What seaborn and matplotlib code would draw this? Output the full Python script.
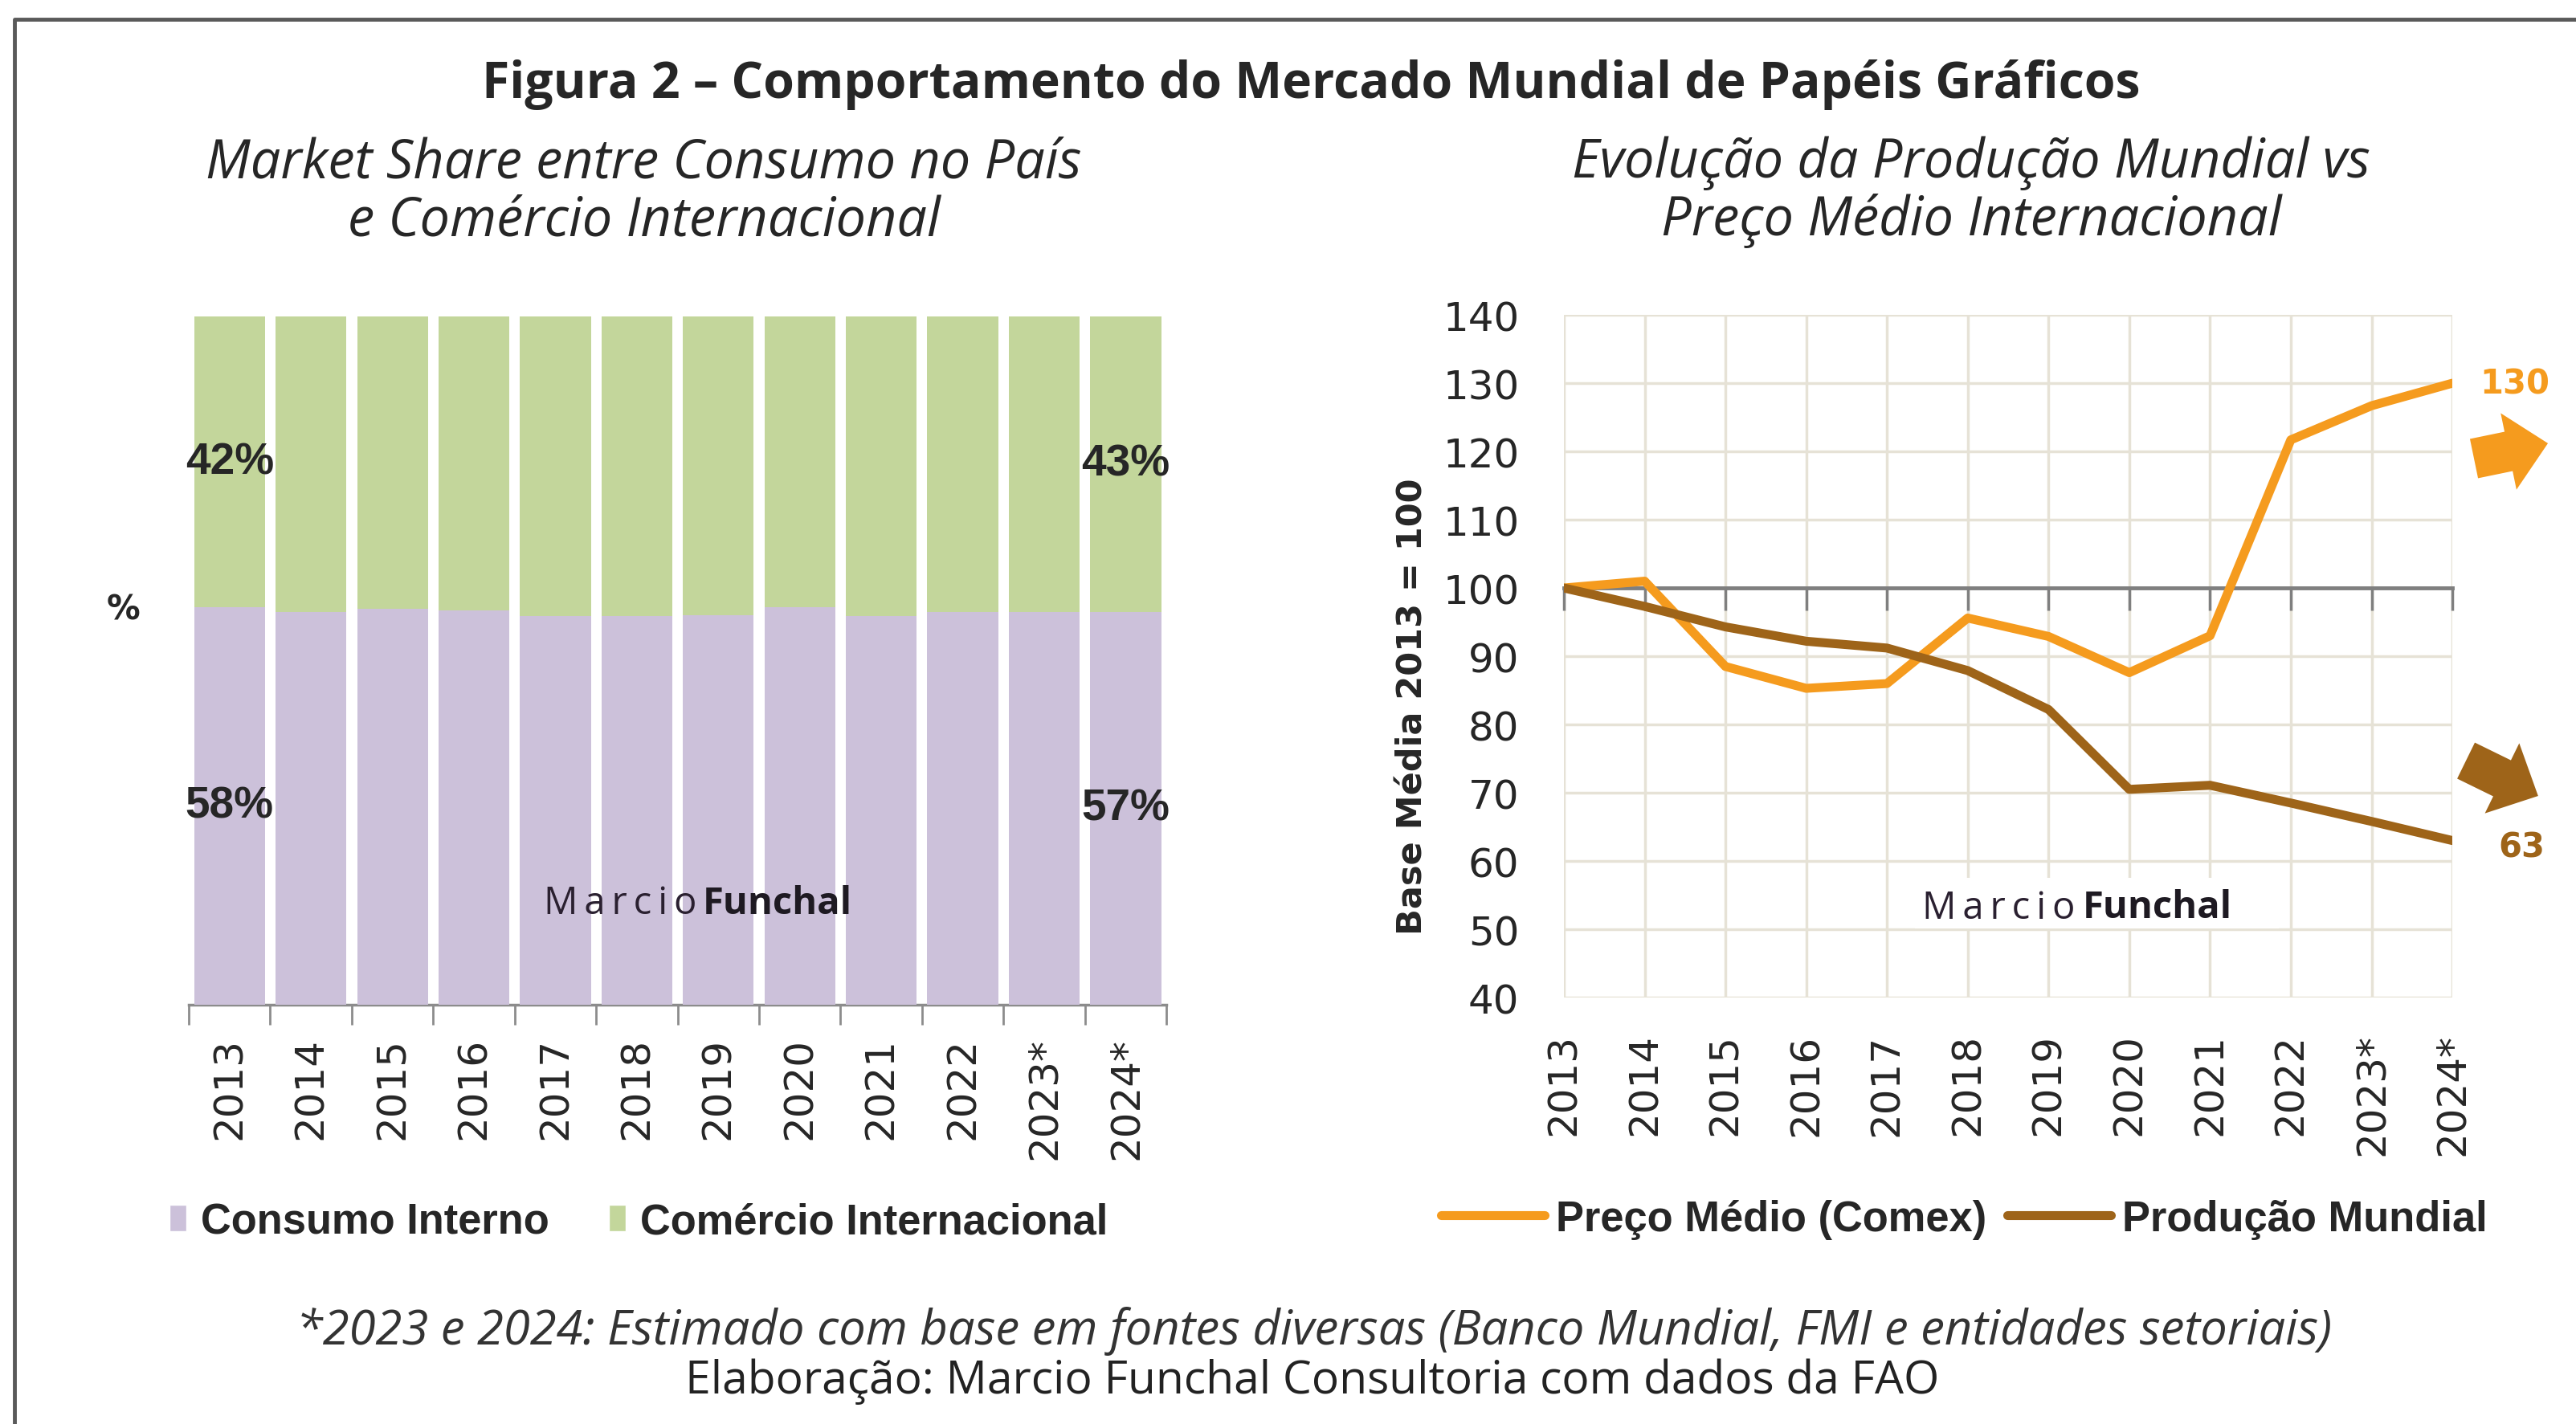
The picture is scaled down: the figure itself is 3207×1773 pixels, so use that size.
import numpy as np
import pandas as pd
import matplotlib
matplotlib.use("Agg")
import matplotlib.pyplot as plt
import seaborn as sns
from matplotlib import font_manager
from matplotlib.patches import Patch, FancyArrowPatch, Rectangle
from matplotlib.lines import Line2D

# dados
anos = ["2013", "2014", "2015", "2016", "2017", "2018", "2019", "2020",
        "2021", "2022", "2023*", "2024*"]
consumo_interno = [57.7, 57.1, 57.5, 57.3, 56.5, 56.5, 56.6, 57.7, 56.5, 57.1, 57.1, 57.1]
comercio_internacional = [42.3, 42.9, 42.5, 42.7, 43.5, 43.5, 43.4, 42.3, 43.5, 42.9, 42.9, 42.9]
preco_medio = [100, 101, 88.5, 85.3, 86.0, 95.6, 92.9, 87.6, 93.0, 121.7, 126.7, 130]
producao_mundial = [100, 97.3, 94.3, 92.2, 91.2, 87.9, 82.2, 70.5, 71.1, 68.5, 65.8, 63]

ROXO = "#CCC1DA"
VERDE = "#C3D69B"
LARANJA = "#F59B1E"
MARROM = "#9E6419"
CINZA = "#7f7f7f"


def fonte(nome, reserva):
    try:
        font_manager.findfont(font_manager.FontProperties(family=nome), fallback_to_default=False)
        return nome, 1.0
    except ValueError:
        return reserva, 0.9


NARROW, ESCALA = fonte("Liberation Sans Narrow", "Liberation Sans")
TITULO = "Open Sans"

sns.set_style("white")
plt.rcParams["font.family"] = ["DejaVu Sans"]

fig = plt.figure(figsize=(32.07, 17.74), dpi=100)
ax1 = fig.add_axes([0.0733, 0.2943, 0.3795, 0.4831])
ax2 = fig.add_axes([0.6071, 0.2993, 0.3449, 0.4791])

# ---- gráfico 1: barras empilhadas
df_bar = pd.DataFrame({"ano": anos, "consumo": consumo_interno, "comercio": comercio_internacional})
df_bar["total"] = df_bar["consumo"] + df_bar["comercio"]
sns.barplot(data=df_bar, x="ano", y="total", color=VERDE, saturation=1, width=0.87,
            linewidth=0, ax=ax1, zorder=2)
sns.barplot(data=df_bar, x="ano", y="consumo", color=ROXO, saturation=1, width=0.87,
            linewidth=0, ax=ax1, zorder=3)
ax1.set_xlim(-0.5, len(anos) - 0.5)
ax1.set_ylim(0, 100)
ax1.set_yticks([])
ax1.set_xlabel("")
ax1.set_ylabel("")
for s in ["left", "right", "top"]:
    ax1.spines[s].set_visible(False)
ax1.spines["bottom"].set_color("#8c8c8c")
ax1.spines["bottom"].set_linewidth(2.5)
ax1.set_xticks(np.arange(-0.5, len(anos), 1), minor=True)
ax1.tick_params(axis="x", which="minor", length=18, width=2, color="#8c8c8c", direction="out", bottom=True)
ax1.tick_params(axis="x", which="major", length=0, pad=29, labelsize=36, labelrotation=90)

tam_rotulo = 44 * ESCALA
for i in [0, len(anos) - 1]:
    c = df_bar["consumo"][i]
    m = df_bar["comercio"][i]
    ax1.text(i, c / 2, f"{c:.0f}%", ha="center", va="center", fontsize=tam_rotulo,
             fontweight="bold", family=NARROW, zorder=5)
    ax1.text(i, c + m / 2, f"{m:.0f}%", ha="center", va="center", fontsize=tam_rotulo,
             fontweight="bold", family=NARROW, zorder=5)
ax1.text(-0.067, 0.575, "%", transform=ax1.transAxes, ha="center", va="center",
         fontsize=30, fontweight="bold")

# ---- gráfico 2: linhas
n = len(anos)
df_lin = pd.DataFrame({
    "pos": list(range(n)) * 2,
    "valor": preco_medio + producao_mundial,
    "serie": ["Preço Médio (Comex)"] * n + ["Produção Mundial"] * n,
})
sns.lineplot(data=df_lin, x="pos", y="valor", hue="serie",
             palette={"Preço Médio (Comex)": LARANJA, "Produção Mundial": MARROM},
             linewidth=8, legend=False, ax=ax2, zorder=4,
             solid_joinstyle="round", solid_capstyle="round")
ax2.set_xlim(0, n - 1)
ax2.set_ylim(40, 140)
ax2.set_yticks(range(40, 141, 10))
ax2.set_xticks(range(n))
ax2.set_xticklabels(anos)
ax2.set_xlabel("")
ax2.grid(True, color="#E6E2D6", linewidth=2.5)
ax2.set_axisbelow(True)
for s in ax2.spines.values():
    s.set_visible(False)
ax2.tick_params(axis="y", length=0, pad=40, labelsize=36)
ax2.tick_params(axis="x", length=0, pad=32, labelsize=36, labelrotation=90)
ax2.set_ylabel("Base Média 2013 = 100", fontsize=31, fontweight="bold")
ax2.yaxis.set_label_coords(-0.151, 0.427)

# eixo horizontal cruzando em 100
y0, y1 = ax2.get_ylim()
sec = ax2.secondary_xaxis((100 - y0) / (y1 - y0))
sec.set_alignment("bottom")
sec.set_zorder(3)
sec.set_xticks(range(n))
sec.tick_params(direction="out", length=20, width=2.5, color=CINZA, labelbottom=False, labeltop=False)
sec.spines["bottom"].set_color(CINZA)
sec.spines["bottom"].set_linewidth(3.5)

ax2.annotate(f"{preco_medio[-1]:.0f}", xy=(n - 1, preco_medio[-1]), xytext=(56, 0),
             textcoords="offset points", ha="center", va="center", fontsize=30,
             fontweight="bold", color=LARANJA, annotation_clip=False)
ax2.annotate(f"{producao_mundial[-1]:.0f}", xy=(n - 1, producao_mundial[-1]), xytext=(62, -6),
             textcoords="offset points", ha="center", va="center", fontsize=30,
             fontweight="bold", color=MARROM, annotation_clip=False)

# setas
estilo = "simple,head_length=36,head_width=70,tail_width=36"
fig.add_artist(FancyArrowPatch((0.9604, 0.6776), (0.9891, 0.6883), transform=fig.transFigure,
                               arrowstyle=estilo, mutation_scale=1, color=LARANJA, lw=0,
                               shrinkA=0, shrinkB=0))
fig.add_artist(FancyArrowPatch((0.9573, 0.4656), (0.9853, 0.4408), transform=fig.transFigure,
                               arrowstyle=estilo, mutation_scale=1, color=MARROM, lw=0,
                               shrinkA=0, shrinkB=0))

# marca d'água
ax2.add_patch(Rectangle((0.395, 0.101), 0.41, 0.074, transform=ax2.transAxes,
                        facecolor="white", edgecolor="none", zorder=2.5))
marcio = "\u2009".join("Marcio")
for xm, xf, y in [(0.2111, 0.2728, 0.3658), (0.7462, 0.8085, 0.3625)]:
    fig.text(xm, y, marcio, ha="left", va="center", fontsize=34, family=[TITULO, "DejaVu Sans"],
             color="#2a2030")
    fig.text(xf, y, "Funchal", ha="left", va="center", fontsize=34, family=TITULO,
             fontweight="bold", color="#1e1a22")

# legendas
prop_leg = font_manager.FontProperties(family=NARROW, weight="bold", size=42 * ESCALA)
fig.legend([Patch(facecolor=ROXO), Patch(facecolor=VERDE)],
           ["Consumo Interno", "Comércio Internacional"],
           loc="center left", bbox_to_anchor=(0.0658, 0.142), ncol=2, frameon=False,
           prop=prop_leg, handlelength=0.4, handleheight=0.6, handletextpad=0.35,
           columnspacing=1.4, borderpad=0, borderaxespad=0)
fig.legend([Line2D([], [], color=LARANJA, lw=8), Line2D([], [], color=MARROM, lw=8)],
           ["Preço Médio (Comex)", "Produção Mundial"],
           loc="center left", bbox_to_anchor=(0.5594, 0.144), ncol=2, frameon=False,
           prop=prop_leg, handlelength=2.45, handletextpad=0.27, columnspacing=0.5,
           borderpad=0, borderaxespad=0)

# títulos
fig.text(0.509, 0.9405, "Figura 2 – Comportamento do Mercado Mundial de Papéis Gráficos",
         ha="center", va="center", fontsize=45, fontweight="bold", family=TITULO)
fig.text(0.250, 0.865, "Market Share entre Consumo no País\ne Comércio Internacional",
         ha="center", va="center", fontsize=48, style="italic", family=TITULO, linespacing=1.08)
fig.text(0.7653, 0.865, "Evolução da Produção Mundial vs\nPreço Médio Internacional",
         ha="center", va="center", fontsize=48, style="italic", family=TITULO, linespacing=1.08)

fig.text(0.510, 0.0654,
         "*2023 e 2024: Estimado com base em fontes diversas (Banco Mundial, FMI e entidades setoriais)",
         ha="center", va="center", fontsize=43, style="italic", family=TITULO, color="#333333")
fig.text(0.5095, 0.0304, "Elaboração: Marcio Funchal Consultoria com dados da FAO",
         ha="center", va="center", fontsize=41, family=TITULO, color="#222222")

# moldura
fig.add_artist(Line2D([0.0056, 0.0056, 1.0], [0.0, 0.9859, 0.9859], transform=fig.transFigure,
                      color="#5a5a5a", lw=3.5))

fig.savefig("out.png", dpi=100, facecolor="white")
